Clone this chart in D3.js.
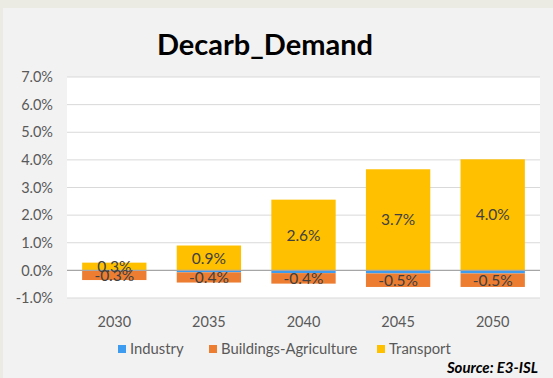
<!DOCTYPE html>
<html>
<head>
<meta charset="utf-8">
<script src="https://cdn.jsdelivr.net/npm/d3@7"></script>
<style>
  html, body { margin: 0; padding: 0; background: #ebebe3; }
  svg { display: block; }
</style>
</head>
<body>
<svg id="chart" width="553" height="378"></svg>
<script>
// Decarbonisation demand change by sector, share points per milestone year
const years = ["2030", "2035", "2040", "2045", "2050"];
const industry = [-0.02, -0.07, -0.10, -0.11, -0.11];
const buildingsAgriculture = [-0.33, -0.37, -0.38, -0.49, -0.49];
const transport = [0.28, 0.90, 2.56, 3.66, 4.02];
const yTicks = [-1, 0, 1, 2, 3, 4, 5, 6, 7];
const seriesNames = ["Industry", "Buildings-Agriculture", "Transport"];
const seriesColors = ["#3d9cf0", "#ed7d31", "#ffc000"];

const W = 553, H = 378;
const plot = { left: 67, right: 540, top: 77, bottom: 298 };
const font = "Lato, 'Open Sans', sans-serif";

const svg = d3.select("#chart");

// chart area
svg.append("rect").attr("x", 3).attr("y", 8).attr("width", W - 3).attr("height", H - 8)
  .attr("fill", "#f2f2f2");

const x = d3.scaleBand().domain(years).range([plot.left, plot.right]).paddingInner(0.32).paddingOuter(0.16);
const y = d3.scaleLinear().domain([-1, 7]).range([plot.bottom, plot.top]);

// plot area
svg.append("rect").attr("x", plot.left).attr("y", y(7))
  .attr("width", plot.right - plot.left).attr("height", y(-1) - y(7)).attr("fill", "#ffffff");

// gridlines
svg.append("g").selectAll("line").data(yTicks.filter(d => d !== 0)).join("line")
  .attr("x1", plot.left).attr("x2", plot.right)
  .attr("y1", d => y(d)).attr("y2", d => y(d))
  .attr("stroke", "#d9d9d9").attr("stroke-width", 1);

// y axis labels
const yAxis = d3.axisLeft(y).tickValues(yTicks).tickSize(0).tickPadding(0)
  .tickFormat(d => d.toFixed(1) + "%");
svg.append("g").attr("transform", `translate(${plot.left - 14},0)`).call(yAxis)
  .call(g => g.select(".domain").remove())
  .selectAll("text").attr("font-family", font).attr("font-size", 14.5).attr("fill", "#595959");

// stacked bars: negatives stack downward from zero, positives upward
const rows = years.map((yr, i) => ({ year: yr, vals: [industry[i], buildingsAgriculture[i], transport[i]] }));
const segs = [];
rows.forEach(r => {
  let pos = 0, neg = 0;
  r.vals.forEach((v, s) => {
    let y0, y1;
    if (v >= 0) { y0 = pos; y1 = pos + v; pos = y1; }
    else { y0 = neg; y1 = neg + v; neg = y1; }
    segs.push({ year: r.year, s, v, y0, y1 });
  });
});

svg.append("g").selectAll("rect").data(segs).join("rect")
  .attr("x", d => x(d.year)).attr("width", x.bandwidth())
  .attr("y", d => y(Math.max(d.y0, d.y1)))
  .attr("height", d => Math.abs(y(d.y0) - y(d.y1)))
  .attr("fill", d => seriesColors[d.s]);

// zero line
svg.append("line").attr("x1", plot.left).attr("x2", plot.right)
  .attr("y1", y(0)).attr("y2", y(0)).attr("stroke", "#a6a6a6").attr("stroke-width", 1.2);

// data labels (Buildings-Agriculture and Transport)
svg.append("g").selectAll("text").data(segs.filter(d => d.s > 0)).join("text")
  .attr("x", d => x(d.year) + x.bandwidth() / 2)
  .attr("y", d => y((d.y0 + d.y1) / 2))
  .attr("dy", "0.36em")
  .attr("text-anchor", "middle")
  .attr("font-family", font).attr("font-size", 15.5).attr("fill", "#404040")
  .text(d => d.v.toFixed(1) + "%");

// x axis labels
const xAxis = d3.axisBottom(x).tickSize(0).tickPadding(0);
svg.append("g").attr("transform", `translate(0,${plot.bottom + 24})`).call(xAxis)
  .call(g => g.select(".domain").remove())
  .selectAll("text").attr("dy", "0.36em")
  .attr("font-family", font).attr("font-size", 14.5).attr("fill", "#595959");

// title
svg.append("text").attr("x", 265).attr("y", 45).attr("dy", "0.36em").attr("text-anchor", "middle")
  .attr("font-family", font).attr("font-weight", "bold").attr("font-size", 29).attr("fill", "#000")
  .text("Decarb_Demand");

// legend
const legendX = [118, 209, 377];
const lg = svg.append("g").selectAll("g").data(seriesNames).join("g")
  .attr("transform", (d, i) => `translate(${legendX[i]},349)`);
lg.append("rect").attr("x", 0).attr("y", -4).attr("width", 8).attr("height", 8)
  .attr("fill", (d, i) => seriesColors[i]);
lg.append("text").attr("x", 12).attr("y", 0).attr("dy", "0.36em")
  .attr("font-family", font).attr("font-size", 14.8).attr("fill", "#595959").text(d => d);

// source note
svg.append("text").attr("x", 538).attr("y", 368).attr("dy", "0.36em").attr("text-anchor", "end")
  .attr("font-family", font).attr("font-weight", "bold").attr("font-style", "italic")
  .attr("font-size", 15).attr("fill", "#000").text("Source: E3-ISL");
</script>
</body>
</html>
